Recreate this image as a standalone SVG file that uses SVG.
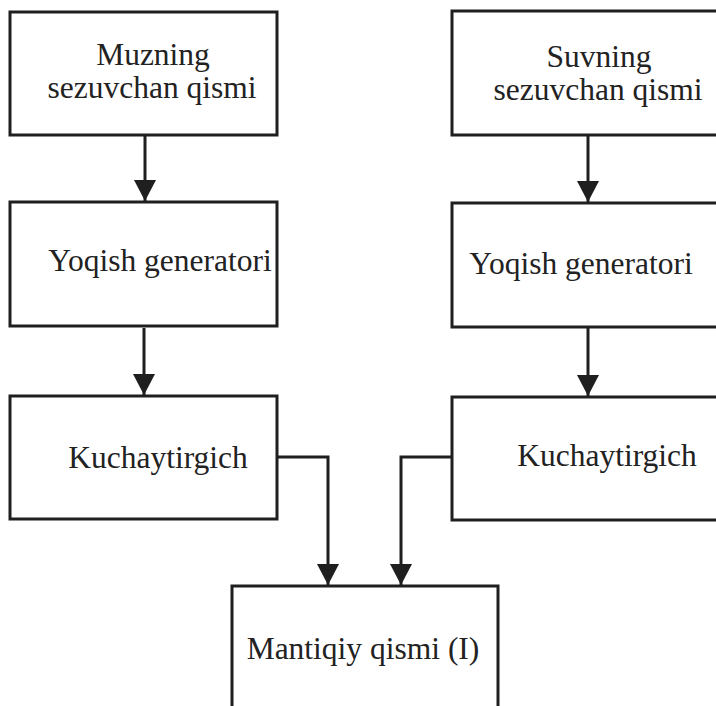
<svg xmlns="http://www.w3.org/2000/svg" width="716" height="706" viewBox="0 0 716 706">
<defs>
<style>
.box{fill:#fff;stroke:#1f1f1f;stroke-width:3}
.t{font-size:31.5px;fill:#222;text-anchor:middle}
.c{fill:none;stroke:#1f1f1f;stroke-width:3}
</style>
<marker id="ah" markerUnits="userSpaceOnUse" markerWidth="22" markerHeight="22" viewBox="0 0 22 22" refX="21" refY="11" orient="auto">
<path d="M0,0 L21,11 L0,22 Z" fill="#1f1f1f"/>
</marker>
</defs>
<rect width="716" height="706" fill="#fff"/>
<g font-family="Liberation Serif, Times New Roman, serif">
<g id="n1"><rect class="box" x="10" y="12" width="267" height="123"/><text class="t" x="153" y="65">Muzning</text><text class="t" x="152" y="98">sezuvchan qismi</text></g>
<g id="n2"><rect class="box" x="10" y="202" width="267" height="124"/><text class="t" x="160" y="271">Yoqish generatori</text></g>
<g id="n3"><rect class="box" x="10" y="396" width="267" height="123"/><text class="t" x="158" y="468">Kuchaytirgich</text></g>
<g id="n4"><rect class="box" x="452" y="11" width="290" height="124"/><text class="t" x="599" y="67">Suvning</text><text class="t" x="598" y="100">sezuvchan qismi</text></g>
<g id="n5"><rect class="box" x="452" y="203" width="290" height="124"/><text class="t" x="581" y="274">Yoqish generatori</text></g>
<g id="n6"><rect class="box" x="452" y="397" width="290" height="123"/><text class="t" x="607" y="466">Kuchaytirgich</text></g>
<g id="n7"><rect class="box" x="232" y="586" width="266" height="140"/><text class="t" x="363" y="659">Mantiqiy qismi (I)</text></g>
</g>
<g id="connectors">
<path class="c" d="M145,135 V201" marker-end="url(#ah)"/>
<path class="c" d="M144,328 V395" marker-end="url(#ah)"/>
<path class="c" d="M588,135 V202" marker-end="url(#ah)"/>
<path class="c" d="M588,328 V396" marker-end="url(#ah)"/>
<path class="c" d="M277,457 H328 V585" marker-end="url(#ah)"/>
<path class="c" d="M452,457 H401 V585" marker-end="url(#ah)"/>
</g>
</svg>
